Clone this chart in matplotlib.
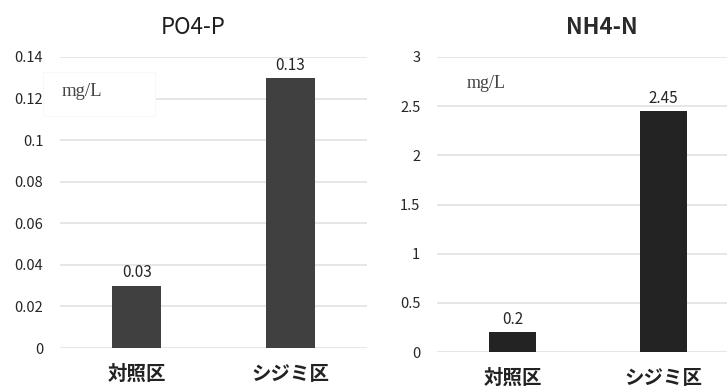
import matplotlib

matplotlib.use("Agg")
import matplotlib.pyplot as plt
from matplotlib.patches import Rectangle

plt.rcParams["font.family"] = ["Noto Sans CJK JP", "DejaVu Sans"]

categories = ["対照区", "シジミ区"]
po4_values = [0.03, 0.13]
po4_ticks = [0, 0.02, 0.04, 0.06, 0.08, 0.1, 0.12, 0.14]
po4_ticklabels = ["0", "0.02", "0.04", "0.06", "0.08", "0.1", "0.12", "0.14"]
nh4_values = [0.2, 2.45]
nh4_ticks = [0, 0.5, 1, 1.5, 2, 2.5, 3]
nh4_ticklabels = ["0", "0.5", "1", "1.5", "2", "2.5", "3"]

W, H = 727, 389
fig = plt.figure(figsize=(W / 100, H / 100), dpi=100)


def px_axes(left, right, bottom, top):
    return fig.add_axes([left / W, 1 - bottom / H, (right - left) / W, (bottom - top) / H])


def style_axes(ax, ticks, ticklabels, ylim):
    ax.set_ylim(*ylim)
    ax.set_yticks(ticks)
    ax.set_yticklabels(ticklabels)
    ax.yaxis.grid(True, color="#e2e2e2", lw=1.2)
    ax.set_axisbelow(True)
    for side in ax.spines.values():
        side.set_visible(False)
    ax.tick_params(axis="y", length=0, pad=12, labelsize=10.5, labelcolor="#262626")
    ax.tick_params(axis="x", length=0, pad=12, labelsize=14)
    for lab in ax.get_xticklabels():
        lab.set_fontweight("bold")
        lab.set_color("#222222")


def draw_bars(ax, values, color, width, fmt):
    x = range(len(values))
    bars = ax.bar(x, values, width=width, color=color, zorder=3)
    ax.set_xticks(list(x))
    ax.set_xticklabels(categories)
    for b, v in zip(bars, values):
        ax.annotate(fmt(v), (b.get_x() + b.get_width() / 2, v), xytext=(0, 3),
                    textcoords="offset points", ha="center", va="bottom",
                    fontsize=11, color="#262626")


# PO4-P panel
ax1 = px_axes(60, 367, 348, 57)
draw_bars(ax1, po4_values, "#404040", 0.32, lambda v: f"{v:g}")
ax1.set_xlim(-0.5, 1.5)
style_axes(ax1, po4_ticks, po4_ticklabels, (0, 0.14))
fig.text(193 / W, 1 - 27 / H, "PO4-P", ha="center", va="center", fontsize=16, color="#1e1e1e")
fig.patches.append(Rectangle((43 / W, 1 - 116 / H), 112 / W, 44 / H, transform=fig.transFigure,
                             facecolor="white", edgecolor="#f7f7f7", lw=0.6, zorder=5))
fig.text(62 / W, 1 - 92 / H, "mg/L", ha="left", va="center", fontsize=13.5,
         family="Liberation Serif", color="#444444", zorder=6)

# NH4-N panel
ax2 = px_axes(437, 727, 352, 57)
draw_bars(ax2, nh4_values, "#232323", 0.31, lambda v: f"{v:g}")
ax2.set_xlim(-0.5, 1.42)
style_axes(ax2, nh4_ticks, nh4_ticklabels, (0, 3))
fig.text(602 / W, 1 - 27 / H, "NH4-N", ha="center", va="center", fontsize=16,
         fontweight="bold", color="#2a2a2a")
fig.text(467 / W, 1 - 83 / H, "mg/L", ha="left", va="center", fontsize=13,
         family="Liberation Serif", color="#444444")

fig.savefig("out.png", dpi=100)
